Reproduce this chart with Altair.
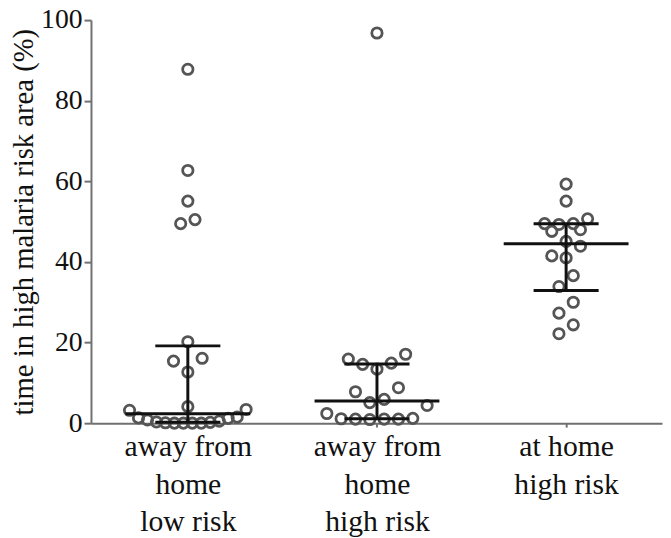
import json
import altair as alt
import numpy as np
import pandas as pd

# ---- data ----
categories = ["away from|home|low risk", "away from|home|high risk", "at home|high risk"]

away_low_risk = [87.8, 62.7, 55.1, 50.5, 49.5, 20.2, 16.1, 15.4, 12.7, 4.1, 3.4, 3.2,
                 1.5, 1.3, 1.2, 0.8, 0.5, 0.3, 0.2, 0.1, 0.0, 0.0, 0.0, 0.0]
away_high_risk = [96.8, 17.1, 15.9, 14.9, 14.6, 13.4, 8.8, 7.8, 5.9, 5.1, 4.4, 2.4,
                  0.9, 1.0, 1.0, 1.1, 1.0, 1.2]
home_high_risk = [59.3, 55.1, 50.7, 49.5, 49.5, 49.3, 48.0, 47.6, 45.1, 43.9, 41.5, 41.0,
                  36.6, 33.9, 30.0, 27.3, 24.4, 22.2]

y_ticks = [0, 20, 40, 60, 80, 100]

# ---- layout constants ----
W, H = 578, 408
X_MIN, X_MAX = 0.488, 3.507
PX_PER_UNIT = W / (X_MAX - X_MIN)
FONT = "Liberation Serif"


def swarm_offsets(vals, bin_units=4.0, step_px=14.5, max_span_px=118.0):
    """Prism-like row scatter: bin values into rows, spread each row around centre."""
    n = len(vals)
    order = sorted(range(n), key=lambda i: vals[i])
    rows, cur, start = [], [], None
    for i in order:
        if cur and vals[i] - start <= bin_units:
            cur.append(i)
        else:
            if cur:
                rows.append(cur)
            cur, start = [i], vals[i]
    if cur:
        rows.append(cur)
    offs = [0.0] * n
    for row in rows:
        k = len(row)
        s = step_px if k <= 1 else min(step_px, max_span_px / (k - 1))
        slots = [(j - (k - 1) / 2) * s for j in range(k)]
        slots.sort(key=lambda p: (abs(p), p))
        for i, p in zip(row, slots):
            offs[i] = p
    return offs


groups = [away_low_risk, away_high_risk, home_high_risk]
pts, rules = [], []
for gi, vals in enumerate(groups, start=1):
    offs = swarm_offsets(vals)
    for v, o in zip(vals, offs):
        pts.append({"x": gi + o / PX_PER_UNIT, "y": v})
    q1, med, q3 = np.percentile(vals, [25, 50, 75], method="weibull")
    rules.append({"x": gi - 0.33, "x2": gi + 0.33, "y": med, "y2": med})
    rules.append({"x": gi - 0.172, "x2": gi + 0.172, "y": q1, "y2": q1})
    rules.append({"x": gi - 0.172, "x2": gi + 0.172, "y": q3, "y2": q3})
    rules.append({"x": gi, "x2": gi, "y": q1, "y2": q3})

pts_df = pd.DataFrame(pts)
rules_df = pd.DataFrame(rules)

label_expr = "split(" + json.dumps(categories) + "[datum.value - 1], '|')"

x_scale = alt.Scale(domain=[X_MIN, X_MAX], nice=False, zero=False)
y_scale = alt.Scale(domain=[0, 100], nice=False)

x_axis = alt.Axis(values=[1, 2, 3], labelExpr=label_expr, title=None, grid=False,
                  tickSize=4, labelPadding=5, labelLineHeight=38, labelAngle=0,
                  labelFontSize=30)
y_axis = alt.Axis(values=y_ticks, title="time in high malaria risk area (%)", grid=False,
                  tickSize=7, labelPadding=2, titlePadding=2, labelFontSize=28,
                  titleFontSize=29)

points = alt.Chart(pts_df).mark_point(
    shape="circle", filled=False, size=110, strokeWidth=2.8, color="#555555", opacity=1
).encode(
    x=alt.X("x:Q", scale=x_scale, axis=x_axis),
    y=alt.Y("y:Q", scale=y_scale, axis=y_axis),
)

lines = alt.Chart(rules_df).mark_rule(color="#111111", strokeWidth=3).encode(
    x=alt.X("x:Q", scale=x_scale),
    x2="x2:Q",
    y=alt.Y("y:Q", scale=y_scale),
    y2="y2:Q",
)

chart = alt.layer(points, lines).properties(
    width=W, height=H,
    autosize=alt.AutoSizeParams(type="none"),
    padding={"left": 84, "top": 9, "right": 1, "bottom": 115},
).configure_view(stroke=None).configure_axis(
    labelFont=FONT, titleFont=FONT,
    titleFontWeight="normal", labelColor="#111111", titleColor="#111111",
    domainColor="#707070", domainWidth=2, tickColor="#707070", tickWidth=2,
)

chart.save("out.html", embed_options={"renderer": "svg", "actions": False})
